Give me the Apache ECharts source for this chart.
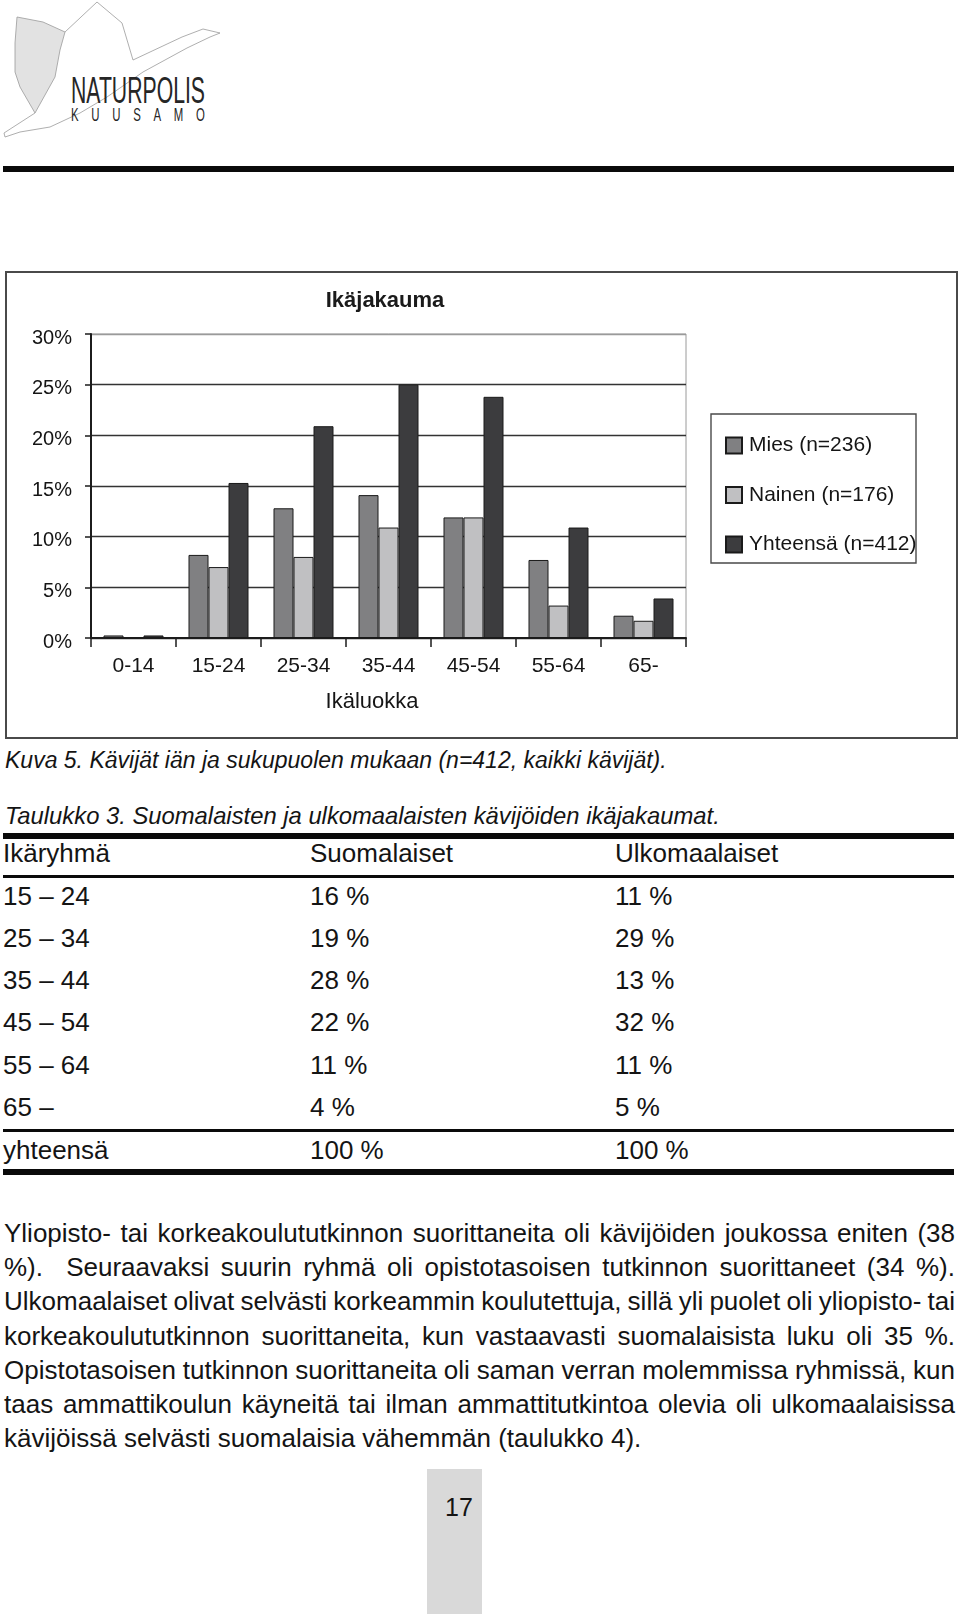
<!DOCTYPE html>
<html>
<head>
<meta charset="utf-8">
<script src="https://cdn.jsdelivr.net/npm/echarts@6/dist/echarts.min.js"></script>
<style>
  html, body { margin:0; padding:0; background:#fff; }
  #page { position:relative; width:960px; height:1614px; overflow:hidden; background:#fff;
          font-family:"Liberation Sans", Arial, Helvetica, sans-serif; color:#141414; }
  .abs { position:absolute; }
  .rule { position:absolute; background:#0a0a0a; }
  .txt { position:absolute; white-space:pre; }
</style>
</head>
<body>
<div id="page">
  <svg class="abs" style="left:0;top:0" width="240" height="150" viewBox="0 0 240 150">
    <polygon points="17,17 43,22 65,32 60,50 55,77 35,113 20,87 15,72 15,43" fill="#e2e2e2" stroke="#9a9a9a" stroke-width="0.8"/>
    <polyline points="65,32 97,2 122,23 133,60 182,37 203,29 220,33 210,37 187,48 143,72 107,97 80,113 50,127 20,132 5,137 4,133 35,113" fill="none" stroke="#9a9a9a" stroke-width="0.8"/>
    <text x="71" y="103" font-family="Liberation Sans, Arial, sans-serif" font-size="36" fill="#262626" textLength="134" lengthAdjust="spacingAndGlyphs">NATURPOLIS</text>
    <text transform="translate(71,121) scale(0.6,1)" font-family="Liberation Sans, Arial, sans-serif" font-size="19" fill="#262626" textLength="223" lengthAdjust="spacing">KUUSAMO</text>
  </svg>
  <div class="rule" style="left:3px;top:166px;width:951px;height:6px"></div>

  <div class="abs" style="left:5px;top:271px;width:953px;height:468px;border:2px solid #4a4a4a;box-sizing:border-box;">
    <div id="chart" style="position:absolute;left:0;top:0;width:949px;height:464px"></div>
  </div>

  <div class="rule" style="left:3px;top:833px;width:951px;height:6px"></div>
  <div class="rule" style="left:3px;top:875px;width:951px;height:3px"></div>
  <div class="rule" style="left:3px;top:1129px;width:951px;height:3px"></div>
  <div class="rule" style="left:3px;top:1169px;width:951px;height:6px"></div>

  <div class="abs" style="left:427px;top:1469px;width:55px;height:145px;background:#d9d9d9"></div>
</div>

<script>
// ---------- Chart data ----------
const categories = ['0-14', '15-24', '25-34', '35-44', '45-54', '55-64', '65-'];
const mies      = [0.25, 8.2, 12.8, 14.1, 11.9, 7.7, 2.2];
const nainen    = [0,    7.0,  8.0, 10.9, 11.9, 3.2, 1.7];
const yhteensa  = [0.25, 15.3, 20.9, 25.0, 23.8, 10.9, 3.9];
const seriesNames = ['Mies (n=236)', 'Nainen (n=176)', 'Yhteensä (n=412)'];
const chartTitle = 'Ikäjakauma';
const xAxisName = 'Ikäluokka';

// ---------- Page texts ----------
const figCaption = 'Kuva 5. Kävijät iän ja sukupuolen mukaan (n=412, kaikki kävijät).';
const tableCaption = 'Taulukko 3. Suomalaisten ja ulkomaalaisten kävijöiden ikäjakaumat.';
const tableHeader = ['Ikäryhmä', 'Suomalaiset', 'Ulkomaalaiset'];
const ageGroups = ['15 – 24', '25 – 34', '35 – 44', '45 – 54', '55 – 64', '65 –', 'yhteensä'];
const suomalaiset = ['16 %', '19 %', '28 %', '22 %', '11 %', '4 %', '100 %'];
const ulkomaalaiset = ['11 %', '29 %', '13 %', '32 %', '11 %', '5 %', '100 %'];
const paragraphLines = [
  'Yliopisto- tai korkeakoulututkinnon suorittaneita oli kävijöiden joukossa eniten (38',
  '%).  Seuraavaksi suurin ryhmä oli opistotasoisen tutkinnon suorittaneet (34 %).',
  'Ulkomaalaiset olivat selvästi korkeammin koulutettuja, sillä yli puolet oli yliopisto- tai',
  'korkeakoulututkinnon suorittaneita, kun vastaavasti suomalaisista luku oli 35 %.',
  'Opistotasoisen tutkinnon suorittaneita oli saman verran molemmissa ryhmissä, kun',
  'taas ammattikoulun käyneitä tai ilman ammattitutkintoa olevia oli ulkomaalaisissa',
  'kävijöissä selvästi suomalaisia vähemmän (taulukko 4).'
];
const pageNumber = '17';

// ---------- HTML text layout ----------
const page = document.getElementById('page');
function addText(text, x, cy, size, opts) {
  opts = opts || {};
  const lh = Math.round(size * 1.3);
  const d = document.createElement('div');
  d.className = 'txt';
  d.textContent = text;
  d.style.left = x + 'px';
  d.style.top = (cy - lh / 2) + 'px';
  d.style.fontSize = size + 'px';
  d.style.lineHeight = lh + 'px';
  if (opts.italic) d.style.fontStyle = 'italic';
  page.appendChild(d);
  return d;
}
addText(figCaption, 5, 760, 23, {italic: true});
addText(tableCaption, 5, 815, 23.8, {italic: true});
const colX = [3, 310, 615];
tableHeader.forEach((t, i) => addText(t, colX[i], 853, 26));
const rowY = [896, 938, 980, 1022, 1065, 1107, 1150];
ageGroups.forEach((g, r) => {
  addText(g, colX[0], rowY[r], 26);
  addText(suomalaiset[r], colX[1], rowY[r], 26);
  addText(ulkomaalaiset[r], colX[2], rowY[r], 26);
});
const paraTop = 1233, paraLH = 34.2, paraWidth = 951;
paragraphLines.forEach((t, i) => {
  const d = addText(t, 4, paraTop + i * paraLH, 26);
  if (i < paragraphLines.length - 1) {
    const w = d.getBoundingClientRect().width;
    const n = (t.match(/ /g) || []).length;
    d.style.wordSpacing = ((paraWidth - w) / n) + 'px';
  }
});
addText(pageNumber, 445, 1507, 25);

// ---------- Chart ----------
const chart = echarts.init(document.getElementById('chart'), null, {renderer: 'canvas'});
const FONT = '"Liberation Sans", Arial, Helvetica, sans-serif';
const colors = ['#808082', '#c0c0c2', '#3c3c3e'];
const seriesData = [mies, nainen, yhteensa];
chart.setOption({
  animation: false,
  textStyle: { fontFamily: FONT, color: '#121212' },
  title: {
    text: chartTitle, left: 378, top: 17, textAlign: 'center', padding: 0,
    textStyle: { fontFamily: FONT, fontSize: 22, fontWeight: 'bold', color: '#1a1a1a' }
  },
  grid: { left: 84, top: 61, width: 595, height: 304, show: true, borderColor: '#9a9a9a', borderWidth: 1, containLabel: false },
  legend: {
    orient: 'vertical', left: 718, top: 162, itemWidth: 16, itemHeight: 16, itemGap: 28.5,
    padding: 0, icon: 'rect',
    textStyle: { fontFamily: FONT, fontSize: 21, color: '#151515', lineHeight: 21, padding: [0, 0, 0, 2] },
    data: seriesNames
  },
  graphic: [{
    type: 'rect', shape: { x: 704, y: 141, width: 205, height: 149 },
    style: { fill: 'rgba(0,0,0,0)', stroke: '#4a4a4a', lineWidth: 1.4 }, silent: true, z: 0
  }],
  xAxis: {
    type: 'category', data: categories,
    name: xAxisName, nameLocation: 'middle', nameGap: 53,
    nameTextStyle: { fontFamily: FONT, fontSize: 22, color: '#151515', padding: [0, 33, 0, 0] },
    axisLine: { lineStyle: { color: '#1c1c1c', width: 2 } },
    axisTick: { show: true, length: 9, lineStyle: { color: '#1c1c1c', width: 1.5 } },
    axisLabel: { fontFamily: FONT, fontSize: 21, color: '#151515', margin: 18 }
  },
  yAxis: {
    type: 'value', min: 0, max: 30, interval: 5,
    axisLine: { show: true, lineStyle: { color: '#1c1c1c', width: 2 } },
    axisTick: { show: true, length: 6, lineStyle: { color: '#1c1c1c', width: 1.5 } },
    axisLabel: { fontFamily: FONT, fontSize: 20, color: '#151515', margin: 19, verticalAlign: 'top', lineHeight: 8, formatter: '{value}%' },
    splitLine: { show: true, lineStyle: { color: ['#333','#333','#333','#333','#333','#333','#9a9a9a'], width: 1.3 } }
  },
  series: seriesNames.map((n, i) => ({
    name: n, type: 'bar', data: seriesData[i], barWidth: 20, barGap: '0%',
    itemStyle: { color: colors[i], borderColor: '#1a1a1a', borderWidth: 1 }
  }))
});
</script>
</body>
</html>
